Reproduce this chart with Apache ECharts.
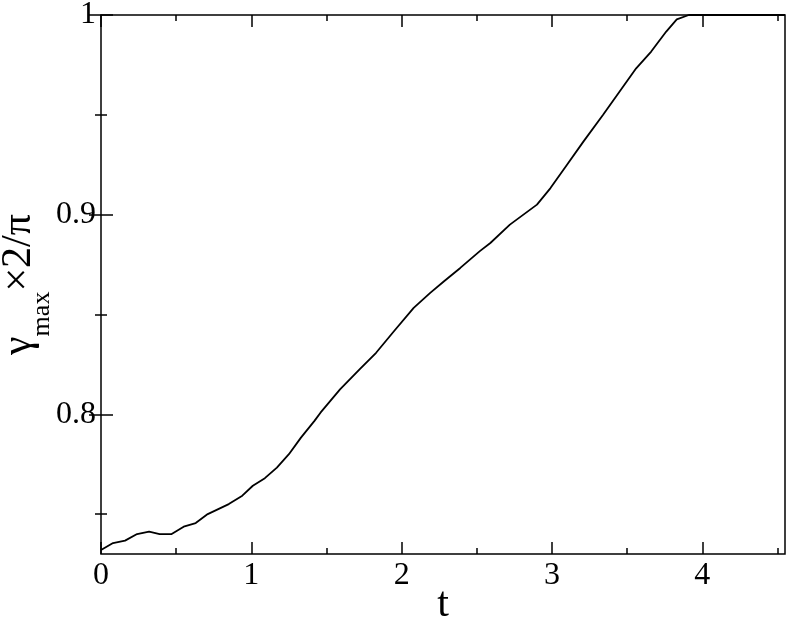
<!DOCTYPE html>
<html>
<head>
<meta charset="utf-8">
<script src="https://cdn.jsdelivr.net/npm/echarts@6/dist/echarts.min.js"></script>
<style>
  html, body { margin: 0; padding: 0; background: #fff; }
  #chart { width: 789px; height: 620px; }
</style>
</head>
<body>
<div id="chart"></div>
<script>
  // curve
  const tValues = [0, 0.08, 0.16, 0.24, 0.32, 0.39, 0.47, 0.55, 0.63, 0.71, 0.85, 0.94,
    1.01, 1.09, 1.17, 1.25, 1.33, 1.42, 1.46, 1.59, 1.72, 1.83, 1.95, 2.08, 2.19, 2.28,
    2.39, 2.52, 2.59, 2.72, 2.90, 2.99, 3.10, 3.21, 3.34, 3.45, 3.56, 3.66, 3.76, 3.83,
    3.91, 4.0, 4.55];
  const gammaValues = [0.732, 0.7355, 0.7367, 0.740, 0.7412, 0.740, 0.740, 0.7437, 0.7455,
    0.750, 0.755, 0.7592, 0.7642, 0.768, 0.7733, 0.780, 0.7883, 0.7967, 0.8008, 0.8125,
    0.8225, 0.8308, 0.8417, 0.8533, 0.8608, 0.8665, 0.8733, 0.8817, 0.8858, 0.895, 0.905,
    0.9133, 0.925, 0.9367, 0.950, 0.9617, 0.9733, 0.9817, 0.9917, 0.9978, 1.0, 1.0, 1.0];

  const xMajor = [0, 1, 2, 3, 4];
  const xMinor = [0.5, 1.5, 2.5, 3.5, 4.5];
  const yMajor = [0.8, 0.9, 1.0];
  const yMinor = [0.75, 0.85, 0.95];
  const xRange = [0, 4.55];
  const yRange = [0.73, 1.0];

  const font = "'Liberation Serif', 'Times New Roman', serif";
  const chart = echarts.init(document.getElementById('chart'));

  function xAx(pos, ticks, len, withLabels) {
    return {
      type: 'value', position: pos, min: xRange[0], max: xRange[1],
      axisLine: { show: false },
      splitLine: { show: false },
      axisTick: { show: true, inside: true, length: len, customValues: ticks,
        lineStyle: { color: '#000', width: 1.5 } },
      axisLabel: withLabels ? { show: true, customValues: ticks, margin: 6,
        fontFamily: font, fontSize: 32, color: '#000' } : { show: false }
    };
  }
  function yAx(pos, ticks, len, withLabels) {
    return {
      type: 'value', position: pos, min: yRange[0], max: yRange[1],
      axisLine: { show: false },
      splitLine: { show: false },
      axisTick: { show: true, inside: true, length: len, customValues: ticks,
        lineStyle: { color: '#000', width: 1.5 } },
      axisLabel: withLabels ? { show: true, customValues: ticks, margin: 5,
        fontFamily: font, fontSize: 32, color: '#000',
        formatter: (v) => (v === 1 ? '1' : v.toFixed(1)) } : { show: false }
    };
  }

  const xBottom = xAx('bottom', xMajor, 12, true);
  xBottom.name = 't';
  xBottom.nameLocation = 'middle';
  xBottom.nameMoveOverlap = false;
  xBottom.nameGap = 30;
  xBottom.nameTextStyle = { fontFamily: font, fontSize: 42, color: '#000' };

  const yLeft = yAx('left', yMajor, 12, true);
  yLeft.name = '{g|γ}{s|max}{g|×2/π}';
  yLeft.nameLocation = 'middle';
  yLeft.nameRotate = 90;
  yLeft.nameMoveOverlap = false;
  yLeft.nameGap = 46;
  yLeft.nameTextStyle = {
    fontFamily: font, color: '#000',
    rich: {
      g: { fontFamily: font, fontSize: 42, color: '#000', verticalAlign: 'middle' },
      s: { fontFamily: font, fontSize: 26, color: '#000', verticalAlign: 'bottom', padding: [46, 0, 0, 0] }
    }
  };

  const option = {
    animation: false,
    backgroundColor: '#fff',
    grid: {
      left: 101, right: 4, top: 15, bottom: 66,
      containLabel: false, outerBoundsMode: 'none',
      show: true, borderColor: '#000', borderWidth: 1.5, backgroundColor: 'transparent'
    },
    xAxis: [
      xBottom,
      xAx('bottom', xMinor, 6, false),
      xAx('top', xMajor, 12, false),
      xAx('top', xMinor, 6, false)
    ],
    yAxis: [
      yLeft,
      yAx('left', yMinor, 6, false),
      yAx('right', yMajor, 12, false),
      yAx('right', yMinor, 6, false)
    ],
    series: [
      {
        type: 'line',
        xAxisIndex: 0,
        yAxisIndex: 0,
        showSymbol: false,
        data: tValues.map((t, i) => [t, gammaValues[i]]),
        lineStyle: { color: '#000', width: 1.8 }
      }
    ]
  };
  chart.setOption(option);
</script>
</body>
</html>
